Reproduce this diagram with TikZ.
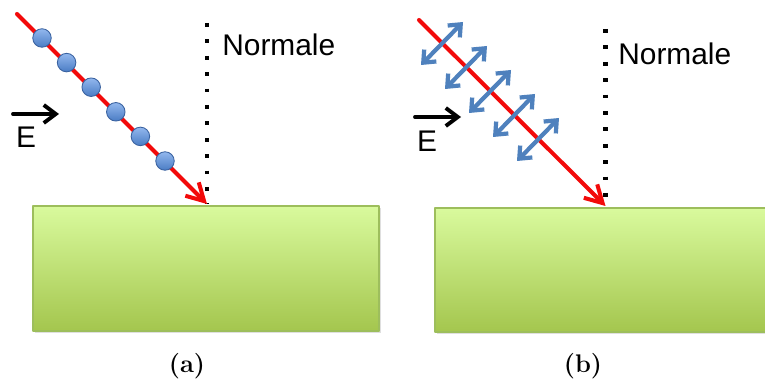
\documentclass[tikz,border=0pt]{standalone}
\usepackage{fontspec}
\newfontfamily\labelsans{Liberation Sans}
\usetikzlibrary{arrows.meta,shadows,calc}
\definecolor{rayred}{HTML}{F20A0A}
\definecolor{ballblue}{HTML}{4A7CC4}
\definecolor{balltop}{HTML}{93B8EE}
\definecolor{balledge}{HTML}{3A62A0}
\definecolor{oscblue}{HTML}{4F81BD}
\definecolor{slabtop}{HTML}{D9FA9D}
\definecolor{slabbot}{HTML}{A4C64E}
\definecolor{slabedge}{HTML}{9DBE5C}
\tikzset{
  every picture/.style={line join=round, line cap=round},
  ray/.style={rayred, line width=2.3pt, -{Straight Barb[length=3.4mm,width=3.8mm]}},
  normal/.style={line width=2.3pt, line cap=butt, dash pattern=on 0.075cm off 0.253cm},
  slab/.style={rectangle, inner sep=0pt, top color=slabtop, bottom color=slabbot,
    draw=slabedge, line width=0.6pt,
    drop shadow={opacity=0.25, shadow xshift=0.03cm, shadow yshift=-0.04cm}},
  ball/.style={circle, inner sep=0pt, minimum size=0.37cm, top color=balltop,
    bottom color=ballblue, draw=balledge, line width=0.5pt},
  field/.style={line width=2.2pt, -{Straight Barb[length=2.4mm,width=3.6mm]}},
  osc/.style={oscblue, line width=2.4pt,
    {Straight Barb[length=2mm,width=3.4mm]}-{Straight Barb[length=2mm,width=3.4mm]}},
  word/.style={font=\labelsans\fontsize{17}{20}\selectfont, inner sep=0pt},
  caption/.style={font=\fontsize{14.5}{17}\selectfont\bfseries, inner sep=0pt},
}

\begin{document}
\begin{tikzpicture}
\useasboundingbox (0,0) rectangle (15.3,7.62);
% (a) ray with particles
\node[slab, minimum width=6.92cm, minimum height=2.5cm] (slabA) at (4.12,2.25) {};
\coordinate (srcA) at (0.34,7.34);
\coordinate (hitA) at (4.14,3.54);
\coordinate (topA) at (4.14,7.16);
\draw[normal] (topA) -- (hitA);
\draw[ray] (srcA) -- (hitA);
\foreach \i in {0,...,5}
  \node[ball] (pA\i) at ({0.84+0.492*\i},{6.86-0.492*\i}) {};
\node[word, anchor=west] (normA) at (4.44,6.72) {Normale};
\coordinate (eA1) at (0.26,5.34);
\coordinate (eA2) at (1.18,5.34);
\draw[field] (eA1) -- (eA2);
\node[word] (EA) at (0.52,4.87) {E};
\node[caption] (capA) at (3.74,0.30) {(a)};
% (b) ray with oscillating field
\node[slab, minimum width=6.9cm, minimum height=2.48cm] (slabB) at (12.15,2.22) {};
\coordinate (srcB) at (8.38,7.22);
\coordinate (hitB) at (12.11,3.50);
\coordinate (topB) at (12.11,7.04);
\draw[normal] (topB) -- (hitB);
\draw[ray] (srcB) -- (hitB);
\foreach \i in {0,...,4}{
  \coordinate (oB\i) at ({8.84+0.48*\i},{6.75-0.48*\i});
  \draw[osc] ($(oB\i)+(-0.42,-0.43)$) -- ($(oB\i)+(0.42,0.43)$);
}
\node[word, anchor=west] (normB) at (12.36,6.54) {Normale};
\coordinate (eB1) at (8.30,5.28);
\coordinate (eB2) at (9.22,5.28);
\draw[field] (eB1) -- (eB2);
\node[word] (EB) at (8.54,4.80) {E};
\node[caption] (capB) at (11.66,0.30) {(b)};
\end{tikzpicture}
\end{document}
